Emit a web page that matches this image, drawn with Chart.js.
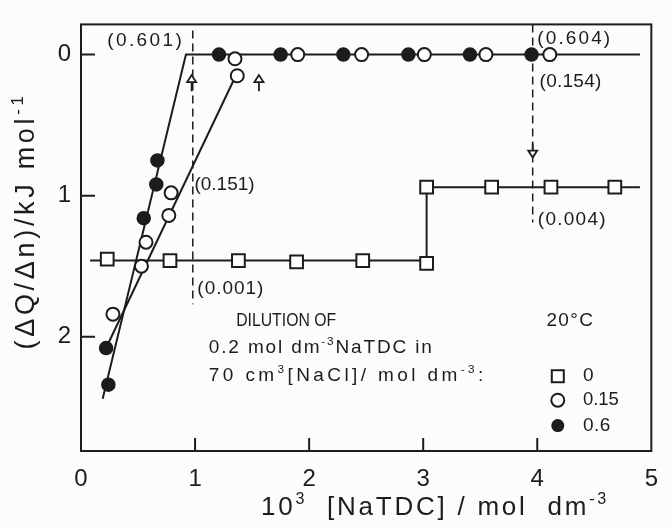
<!DOCTYPE html>
<html>
<head>
<meta charset="utf-8">
<script src="https://cdn.jsdelivr.net/npm/chart.js@4.4.1/dist/chart.umd.min.js"></script>
<style>
html, body { margin: 0; padding: 0; background: #fcfcfa; }
</style>
</head>
<body>
<canvas id="chart" width="672" height="527"></canvas>
<script>
// Values
// x = 10^3 [NaTDC] / mol dm-3, y = (dQ/dn) / kJ mol-1 (axis runs downwards)

// [NaCl] = 0 (squares)
const squareX = [0.23, 0.78, 1.38, 1.89, 2.47, 3.03, 3.03, 3.60, 4.12, 4.68];
const squareY = [1.45, 1.46, 1.46, 1.47, 1.46, 1.48, 0.94, 0.94, 0.94, 0.94];

// [NaCl] = 0.15 (open circles)
const openX = [0.28, 0.53, 0.57, 0.77, 0.79, 1.35, 1.37, 1.90, 2.46, 3.01, 3.55, 4.11];
const openY = [1.84, 1.50, 1.33, 1.14, 0.98, 0.03, 0.15, 0, 0, 0, 0, 0];

// [NaCl] = 0.6 (filled circles)
const filledX = [0.22, 0.24, 0.55, 0.66, 0.67, 1.21, 1.75, 2.30, 2.87, 3.41, 3.95];
const filledY = [2.08, 2.34, 1.16, 0.92, 0.75, 0, 0, 0, 0, 0, 0];

// Drawn lines through the points
const squareLineX = [0.08, 3.03, 3.03, 4.90];
const squareLineY = [1.46, 1.46, 0.94, 0.94];
const filledLineX = [0.19, 0.92, 4.90];
const filledLineY = [2.44, 0, 0];
const openLineX = [0.22, 1.36];
const openLineY = [2.08, 0.145];

// Dashed markers (cmc positions)
const dashAX = [0.98, 0.98];
const dashAY = [-0.17, 1.77];
const dashBX = [3.96, 3.96];
const dashBY = [-0.214, 1.19];

// Arrows: x, tail y, head y
const arrows = [[0.97, 0.26, 0.145], [1.56, 0.26, 0.145], [3.96, 0.63, 0.73]];

// Bracketed numbers next to the curves
const noteText = ['(0.601)', '(0.604)', '(0.154)', '(0.151)', '(0.001)', '(0.004)'];
const noteX = [0.23, 4.0, 4.02, 0.995, 1.02, 4.005];
const noteY = [-0.097, -0.11, 0.19, 0.92, 1.66, 1.17];

// Legend
const legendLabels = ['0', '0.15', '0.6'];

const FONT = '"Liberation Sans", Arial, sans-serif';
const INK = '#1c1c1c';

const zip = (xs, ys) => xs.map((x, i) => ({ x: x, y: ys[i] }));

// Draw a run of text parts ([text, superscript]) fitted to a given width
function drawRich(ctx, parts, x, y, size, width, align) {
    let natural = 0, count = 0;
    parts.forEach(p => {
        ctx.font = (p[1] ? size * 0.62 : size) + 'px ' + FONT;
        for (const ch of p[0]) { natural += ctx.measureText(ch).width; count++; }
    });
    let sp = width ? (width - natural) / count : 0;
    let sx = 1;
    if (sp < 0) { sx = width / natural; sp = 0; }   // squeeze instead of overlapping
    const total = (natural + sp * count) * sx;
    let cx = align === 'center' ? x - total / 2 : (align === 'right' ? x - total : x);
    ctx.save();
    ctx.translate(cx, y);
    ctx.scale(sx, 1);
    ctx.fillStyle = INK;
    ctx.textBaseline = 'middle';
    ctx.textAlign = 'left';
    let ox = 0;
    parts.forEach(p => {
        ctx.font = (p[1] ? size * 0.62 : size) + 'px ' + FONT;
        const dy = p[1] ? -size * 0.33 : 0;
        for (const ch of p[0]) {
            ctx.fillText(ch, ox, dy);
            ox += ctx.measureText(ch).width + sp;
        }
    });
    ctx.restore();
}

// Frame, inner ticks, annotations and legend
const decorations = {
    id: 'decorations',
    afterDatasetsDraw(chart) {
        const ctx = chart.ctx;
        const xs = chart.scales.x, ys = chart.scales.y;
        const a = chart.chartArea;
        const px = (x) => xs.getPixelForValue(x);
        const py = (y) => ys.getPixelForValue(y);

        ctx.save();
        ctx.strokeStyle = INK;
        ctx.lineWidth = 2;
        ctx.strokeRect(a.left, a.top, a.right - a.left, a.bottom - a.top);

        // inward tick marks
        ctx.beginPath();
        [1, 2, 3, 4].forEach(v => { ctx.moveTo(px(v), a.bottom); ctx.lineTo(px(v), a.bottom - 13); });
        [0, 1, 2].forEach(v => { ctx.moveTo(a.left, py(v)); ctx.lineTo(a.left + 14, py(v)); });
        ctx.stroke();

        // arrows
        ctx.lineWidth = 1.8;
        arrows.forEach(([x, y1, y2]) => {
            const X = px(x), Y1 = py(y1), Y2 = py(y2);
            const dir = Y2 < Y1 ? -1 : 1;
            ctx.beginPath();
            ctx.moveTo(X, Y1);
            ctx.lineTo(X, Y2 - dir * 6);
            ctx.stroke();
            ctx.beginPath();
            ctx.moveTo(X, Y2);
            ctx.lineTo(X - 4.5, Y2 - dir * 7);
            ctx.lineTo(X + 4.5, Y2 - dir * 7);
            ctx.closePath();
            ctx.fillStyle = '#fcfcfa';
            ctx.fill();
            ctx.stroke();
        });
        ctx.restore();

        // bracketed numbers
        const noteW = [77, 75, 62, 60, 67, 69];
        noteText.forEach((t, i) => drawRich(ctx, [[t, false]], px(noteX[i]), py(noteY[i]), 19, noteW[i], 'left'));

        // caption
        drawRich(ctx, [['DILUTION OF', false]], px(1.36), py(1.89), 19, 100, 'left');
        drawRich(ctx, [['0.2 mol dm', false], ['-3', true], ['NaTDC in', false]], px(1.12), py(2.08), 19, 225, 'left');
        drawRich(ctx, [['70 cm', false], ['3', true], ['[NaCl]/ mol dm', false], ['-3', true], [':', false]], px(1.12), py(2.28), 19, 278, 'left');
        drawRich(ctx, [['20°C', false]], px(4.08), py(1.89), 19, 48, 'left');

        // legend
        const legY = [2.28, 2.45, 2.63];
        const lx = px(4.18);
        ctx.save();
        ctx.strokeStyle = INK;
        ctx.lineWidth = 2;
        ctx.fillStyle = '#ffffff';
        ctx.fillRect(lx - 6, py(legY[0]) - 6, 12, 12);
        ctx.strokeRect(lx - 6, py(legY[0]) - 6, 12, 12);
        ctx.beginPath();
        ctx.arc(lx, py(legY[1]), 6.5, 0, Math.PI * 2);
        ctx.fill();
        ctx.stroke();
        ctx.beginPath();
        ctx.arc(lx, py(legY[2]), 6.5, 0, Math.PI * 2);
        ctx.fillStyle = INK;
        ctx.fill();
        ctx.restore();
        const legW = [11, 36, 28];
        legendLabels.forEach((t, i) => drawRich(ctx, [[t, false]], px(4.40), py(legY[i]), 19, legW[i], 'left'));

        // axis titles
        drawRich(ctx, [['10', false], ['3', true], ['  [NaTDC] / mol  dm', false], ['-3', true]], 435, 508, 26, 348, 'center');
        ctx.save();
        ctx.translate(27, 221);
        ctx.rotate(-Math.PI / 2);
        drawRich(ctx, [['(ΔQ/Δn)/kJ mol', false], ['-1', true]], 0, 0, 27, 257, 'center');
        ctx.restore();
    }
};

const lineStyle = { showLine: true, pointRadius: 0, borderColor: INK, borderWidth: 2, fill: false, order: 5 };
const dashStyle = { showLine: true, pointRadius: 0, borderColor: INK, borderWidth: 1.5, borderDash: [8, 5], fill: false, order: 5 };

new Chart(document.getElementById('chart'), {
    type: 'scatter',
    data: {
        datasets: [
            { ...lineStyle, data: zip(squareLineX, squareLineY) },
            { ...lineStyle, data: zip(filledLineX, filledLineY) },
            { ...lineStyle, data: zip(openLineX, openLineY) },
            { ...dashStyle, data: zip(dashAX, dashAY) },
            { ...dashStyle, data: zip(dashBX, dashBY) },
            {
                label: '0', data: zip(squareX, squareY), pointStyle: 'rect', pointRadius: 9,
                backgroundColor: '#ffffff', borderColor: INK, borderWidth: 2, order: 1
            },
            {
                label: '0.6', data: zip(filledX, filledY), pointStyle: 'circle', pointRadius: 6.5,
                backgroundColor: INK, borderColor: INK, borderWidth: 1.5, order: 2
            },
            {
                label: '0.15', data: zip(openX, openY), pointStyle: 'circle', pointRadius: 6.5,
                backgroundColor: '#ffffff', borderColor: INK, borderWidth: 2, order: 1
            }
        ]
    },
    options: {
        responsive: false,
        animation: false,
        devicePixelRatio: 1,
        layout: { padding: { top: 13, right: 8, left: 0, bottom: 0 } },
        plugins: { legend: { display: false }, tooltip: { enabled: false } },
        scales: {
            x: {
                type: 'linear', min: 0, max: 5,
                ticks: { stepSize: 1, color: INK, font: { family: FONT, size: 24 }, padding: 14 },
                grid: { display: false, drawTicks: false },
                border: { display: false },
                afterFit: s => { s.height = 76; }
            },
            y: {
                type: 'linear', reverse: true, min: -0.214, max: 2.81,
                afterBuildTicks: s => { s.ticks = [0, 1, 2].map(v => ({ value: v })); },
                ticks: { color: INK, font: { family: FONT, size: 24 }, padding: 10 },
                grid: { display: false, drawTicks: false },
                border: { display: false },
                afterFit: s => { s.width = 81; }
            }
        }
    },
    plugins: [decorations]
});
</script>
</body>
</html>
